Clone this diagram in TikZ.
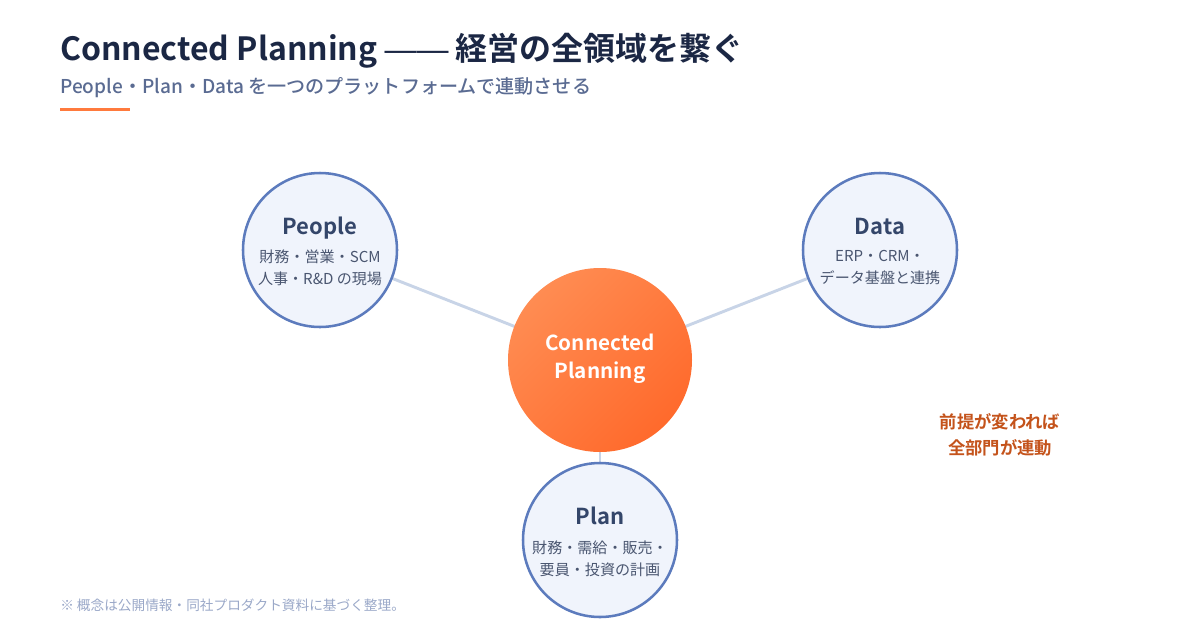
\documentclass[tikz,border=0pt]{standalone}
\usepackage{fontspec}
\usetikzlibrary{backgrounds}
\setmainfont{Noto Sans CJK JP}[BoldFont={Noto Sans CJK JP Bold}]
\newfontfamily\jpmed{Noto Sans CJK JP Medium}
\newfontfamily\dashfont{Liberation Sans}
\definecolor{navy}{HTML}{1B2744}
\definecolor{subgray}{HTML}{5A6B92}
\definecolor{accent}{HTML}{FF7A3D}
\definecolor{ringfill}{HTML}{F0F4FC}
\definecolor{ringdraw}{HTML}{5C7BBD}
\definecolor{linkcol}{HTML}{C8D4E7}
\definecolor{titlecol}{HTML}{34466A}
\definecolor{bodycol}{HTML}{4A5670}
\definecolor{notecol}{HTML}{C4531B}
\definecolor{footcol}{HTML}{9AA8C8}
\definecolor{orlight}{HTML}{FF8C52}
\definecolor{ordark}{HTML}{FF6A2C}
\begin{document}
\begin{tikzpicture}[x=0.75pt,y=-0.75pt,
  ring/.style={circle,draw=ringdraw,fill=ringfill,line width=1.9pt,minimum size=115.5pt,inner sep=0pt},
  hubstyle/.style={circle,minimum size=138pt,inner sep=0pt,top color=orlight,bottom color=ordark,shading angle=45},
  link/.style={draw=linkcol,line width=2.2pt},
  ctitle/.style={anchor=base,text=titlecol,font=\bfseries\fontsize{16.5}{19}\selectfont,inner sep=0pt},
  cbody/.style={text=bodycol,font=\fontsize{11.3}{16.5}\selectfont,inner sep=0pt},
  note/.style={text=notecol,font=\bfseries\fontsize{13}{19.5}\selectfont,inner sep=0pt}]
\useasboundingbox (0,0) rectangle (1200,640);
% title
\node[anchor=base west,inner sep=0pt,text=navy,font=\bfseries\fontsize{24}{28}\selectfont] (title) at (60,60) {Connected Planning {\dashfont\mdseries ——} 経営の全領域を繋ぐ};
\node[anchor=base west,inner sep=0pt,text=subgray,font=\jpmed\fontsize{14.3}{17}\selectfont] (sub) at (60,93) {People・Plan・Data を一つのプラットフォームで連動させる};
\fill[accent] (60,108) rectangle (130,111);
% nodes
\node[ring] (people) at (320,250) {};
\node[ring] (data) at (880,250) {};
\node[ring] (plan) at (600,540) {};
\node[hubstyle] (hub) at (600,360) {};
% links
\begin{scope}[on background layer]
\draw[link] (people.center) -- (hub.center);
\draw[link] (data.center) -- (hub.center);
\draw[link] (plan.center) -- (hub.center);
\end{scope}
% hub text
\node[text=white,font=\bfseries\fontsize{15.5}{21}\selectfont,align=center,inner sep=0pt] (hubt) at (600,359) {Connected\\Planning};
% people
\node[ctitle] (pt) at (320,234.5) {People};
\node[cbody,align=center] (pb) at (320,267.5) {財務・営業・SCM\\人事・R\&D の現場};
% data
\node[ctitle] (dt) at (880,234.5) {Data};
\node[cbody,align=center] (db) at (880,267.5) {ERP・CRM・\\データ基盤と連携};
% plan
\node[ctitle] (plt) at (600,524.5) {Plan};
\node[cbody,align=center] (plb) at (600,558.5) {財務・需給・販売・\\要員・投資の計画};
% note
\node[note,align=center] (nt) at (1000,435) {前提が変われば\\全部門が連動};
% footnote
\node[anchor=base west,inner sep=0pt,text=footcol,font=\fontsize{10.25}{12}\selectfont] (foot) at (60,610) {※ 概念は公開情報・同社プロダクト資料に基づく整理。};
\end{tikzpicture}
\end{document}
